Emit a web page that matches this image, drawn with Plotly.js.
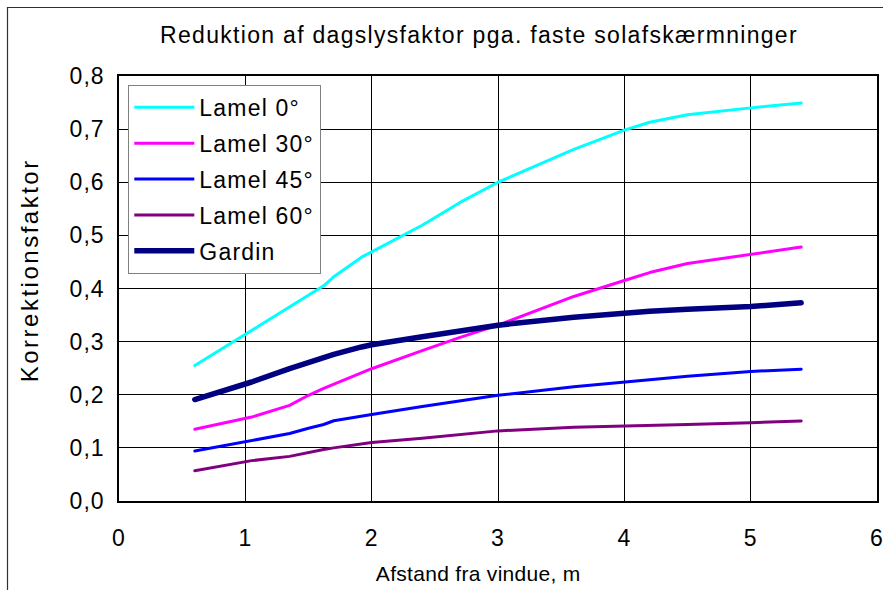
<!DOCTYPE html>
<html>
<head>
<meta charset="utf-8">
<script src="https://cdn.plot.ly/plotly-3.0.1.min.js"></script>
<style>
  html, body { margin: 0; padding: 0; background: #fff; }
  #chart { width: 883px; height: 590px; }
  .gtitle { letter-spacing: 1.3px; }
  .xtick text, .ytick text { letter-spacing: 1px; }
  .legendtext { letter-spacing: 1.2px; }
  g.annotation[data-index="0"] text { letter-spacing: 0.3px; }
  g.annotation[data-index="1"] text { letter-spacing: 2.5px; }
  .scatterlayer path.js-line { stroke-linecap: round; stroke-linejoin: round; }
</style>
</head>
<body>
<div id="chart"></div>
<script>
// Distance from window (m)
const distance = [0.6, 1.05, 1.35, 1.5, 1.62, 1.7, 1.92, 2.0, 2.4, 2.7, 3.0, 3.6, 4.0, 4.2, 4.5, 5.0, 5.4];

const lamel0  = [0.255, 0.321, 0.365, 0.387, 0.405, 0.422, 0.459, 0.469, 0.519, 0.562, 0.600, 0.662, 0.698, 0.713, 0.727, 0.740, 0.749];
const lamel30 = [0.135, 0.158, 0.180, 0.199, 0.212, 0.220, 0.242, 0.249, 0.283, 0.308, 0.331, 0.385, 0.415, 0.430, 0.447, 0.464, 0.478];
const lamel45 = [0.094, 0.113, 0.127, 0.137, 0.144, 0.151, 0.159, 0.163, 0.178, 0.189, 0.199, 0.215, 0.224, 0.229, 0.235, 0.244, 0.248];
const lamel60 = [0.057, 0.076, 0.084, 0.092, 0.097, 0.100, 0.108, 0.110, 0.118, 0.125, 0.132, 0.139, 0.141, 0.142, 0.144, 0.1475, 0.1505];
const gardin  = [0.191, 0.224, 0.249, 0.261, 0.272, 0.276, 0.290, 0.294, 0.309, 0.320, 0.331, 0.346, 0.354, 0.357, 0.361, 0.366, 0.373];

const seriesNames = ["Lamel 0°", "Lamel 30°", "Lamel 45°", "Lamel 60°", "Gardin"];
const seriesData = [lamel0, lamel30, lamel45, lamel60, gardin];
const seriesColors = ["#00FFFF", "#FF00FF", "#0000FF", "#800080", "#000080"];
const seriesWidths = [3, 3, 3, 3, 5.5];

const xTicks = [0, 1, 2, 3, 4, 5, 6];
const yTicks = [0, 0.1, 0.2, 0.3, 0.4, 0.5, 0.6, 0.7, 0.8];

const titleText = "Reduktion af dagslysfaktor pga. faste solafskærmninger";
const xTitle = "Afstand fra vindue, m";
const yTitle = "Korrektionsfaktor";

const FONT = "Liberation Sans, Arial, sans-serif";

const traces = seriesNames.map((name, i) => ({
  type: "scatter",
  mode: "lines",
  name: name,
  x: distance,
  y: seriesData[i],
  legendgroup: "g" + i,
  line: { color: seriesColors[i], width: seriesWidths[i] },
  hoverinfo: "x+y+name"
}));

const L = 119, R = 6, T = 76, B = 89;
const W = 883, H = 590;
const pw = W - L - R, ph = H - T - B;
const px2paperX = px => (px - L) / pw;
const py2paperY = py => (H - B - py) / ph;

const layout = {
  width: W,
  height: H,
  margin: { l: L, r: R, t: T, b: B, pad: 0 },
  paper_bgcolor: "#ffffff",
  plot_bgcolor: "#ffffff",
  separators: ",.",
  font: { family: FONT, color: "#000000", size: 23 },
  title: {
    text: titleText,
    font: { family: FONT, size: 23, color: "#000" },
    xref: "container", yref: "container",
    x: 479 / W, y: 1 - 35 / H,
    xanchor: "center", yanchor: "middle"
  },
  xaxis: {
    range: [0, 6],
    tickvals: xTicks,
    ticktext: xTicks.map(String),
    showgrid: true,
    gridcolor: "#000000",
    gridwidth: 1.4,
    zeroline: false,
    showline: true,
    linecolor: "#000000",
    linewidth: 1.6,
    mirror: true,
    ticks: "",
    ticklabelstandoff: 16,
    ticklabeloverflow: "allow",
    tickfont: { family: FONT, size: 23, color: "#000" },
    fixedrange: true
  },
  yaxis: {
    range: [0, 0.8],
    tickvals: yTicks,
    tickformat: ".1f",
    showgrid: true,
    gridcolor: "#000000",
    gridwidth: 1.4,
    zeroline: false,
    showline: true,
    linecolor: "#000000",
    linewidth: 1.6,
    mirror: true,
    ticks: "",
    ticklabelstandoff: 8,
    ticklabeloverflow: "allow",
    tickfont: { family: FONT, size: 23, color: "#000" },
    fixedrange: true
  },
  showlegend: true,
  legend: {
    x: px2paperX(128), y: py2paperY(84.5),
    xanchor: "left", yanchor: "top",
    bgcolor: "#ffffff",
    bordercolor: "#808080",
    borderwidth: 1.3,
    font: { family: FONT, size: 23, color: "#000" },
    itemwidth: 60,
    tracegroupgap: 3,
    traceorder: "grouped"
  },
  annotations: [
    {
      text: xTitle, xref: "paper", yref: "paper",
      x: px2paperX(478), y: py2paperY(573),
      xanchor: "center", yanchor: "middle", showarrow: false,
      font: { family: FONT, size: 21, color: "#000" }
    },
    {
      text: yTitle, xref: "paper", yref: "paper",
      x: px2paperX(29), y: py2paperY(271),
      xanchor: "center", yanchor: "middle", showarrow: false, textangle: -90,
      font: { family: FONT, size: 24, color: "#000" }
    }
  ],
  shapes: [
    {
      type: "rect", xref: "paper", yref: "paper", layer: "below",
      x0: px2paperX(7.5), x1: px2paperX(900),
      y0: py2paperY(620), y1: py2paperY(7.5),
      line: { color: "#303030", width: 1.2 },
      fillcolor: "rgba(0,0,0,0)"
    }
  ]
};

Plotly.newPlot("chart", traces, layout, { displayModeBar: false, responsive: false });
</script>
</body>
</html>
